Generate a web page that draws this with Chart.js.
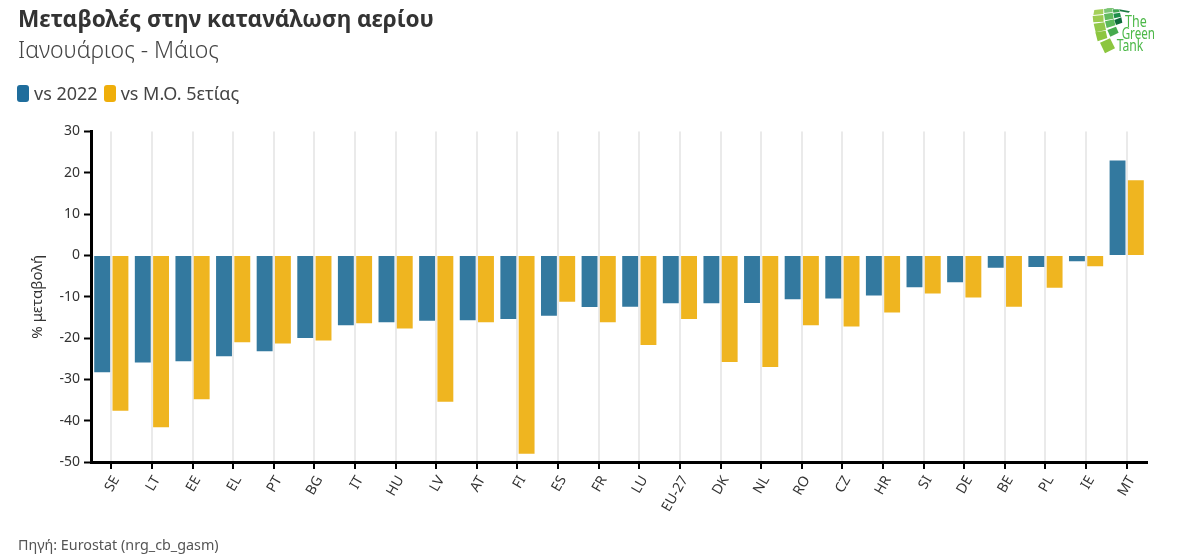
<!DOCTYPE html>
<html lang="el">
<head>
<meta charset="utf-8">
<title>Μεταβολές στην κατανάλωση αερίου</title>
<script src="https://cdn.jsdelivr.net/npm/chart.js@4"></script>
<style>
  html, body { margin: 0; padding: 0; background: #fff; }
  body { width: 1179px; height: 555px; position: relative; overflow: hidden; font-family: "Noto Sans", sans-serif; color: #333; }
  #chart-wrap { position: absolute; left: 0; top: 0; width: 1179px; height: 555px; }
  .title { position: absolute; left: 18px; top: 3px; font-size: 22.6px; font-weight: 700; white-space: nowrap; }
  .subtitle { position: absolute; left: 18px; top: 33px; font-size: 23px; font-weight: 300; color: #444; white-space: nowrap; }
  .legend { position: absolute; left: 17px; top: 81px; font-size: 18px; color: #444; display: flex; align-items: center; white-space: nowrap; }
  .legend i { display: inline-block; width: 12px; height: 17px; border-radius: 3px; margin-right: 5px; }
  .legend span { margin-right: 6px; }
  .source { position: absolute; left: 18px; top: 535px; font-size: 14.35px; color: #555; white-space: nowrap; }
  .logo { position: absolute; left: 1050px; top: 0; }
  .logo text { font-family: "Noto Sans", sans-serif; font-size: 46px; fill: #4cb848; }
</style>
</head>
<body>
<div id="chart-wrap"><canvas id="chart"></canvas></div>
<div class="title">Μεταβολές στην κατανάλωση αερίου</div>
<div class="subtitle">Ιανουάριος - Μάιος</div>
<div class="legend">
  <i style="background:#1f6d9c"></i><span>vs 2022</span>
  <i style="background:#efae0a"></i><span>vs Μ.Ο. 5ετίας</span>
</div>
<div class="source">Πηγή: Eurostat (nrg_cb_gasm)</div>
<svg class="logo" width="129" height="70" viewBox="0 0 387 210">
  <polygon points="133,30 160,27 160,42 130,45" fill="#a5d05a"/>
  <polygon points="128,48 160,45 161,65 130,67" fill="#9ccb4f"/>
  <polygon points="131,71 163,67 168,90 137,97" fill="#92c84a"/>
  <polygon points="136,97 167,92 172,114 143,124" fill="#8cc63f"/>
  <polygon points="150,128 180,115 195,145 165,160" fill="#8cc63f"/>
  <polygon points="162,27 186,24 188,36 163,39" fill="#7cc576"/>
  <polygon points="162,42 188,38 191,56 165,61" fill="#62bb5e"/>
  <polygon points="165,64 192,58 196,76 170,84" fill="#5bb95a"/>
  <polygon points="172,90 198,80 206,98 181,110" fill="#46ab4d"/>
  <polygon points="188,28 206,28 209,36 190,38" fill="#3fa651"/>
  <polygon points="190,41 210,38 213,50 193,55" fill="#1f8f4a"/>
  <polygon points="193,60 214,52 217,68 198,75" fill="#0f6b3a"/>
  <polygon points="170,24 190,24 192,27 170,26" fill="#7cc576"/>
  <polygon points="207,28 240,34 236,38 210,34" fill="#1e7a45"/>
  <text x="225" y="82" textLength="65" lengthAdjust="spacingAndGlyphs">The</text>
  <text x="215" y="117" textLength="100" lengthAdjust="spacingAndGlyphs">Green</text>
  <text x="200" y="152" textLength="80" lengthAdjust="spacingAndGlyphs">Tank</text>
</svg>
<script>
/* country codes, sorted by change vs 2022 */
const categories = ['SE','LT','EE','EL','PT','BG','IT','HU','LV','AT','FI','ES','FR','LU','EU-27','DK','NL','RO','CZ','HR','SI','DE','BE','PL','IE','MT'];
const vs2022 = [-28.3,-25.9,-25.6,-24.4,-23.2,-20.0,-16.9,-16.2,-15.8,-15.7,-15.4,-14.6,-12.5,-12.4,-11.6,-11.6,-11.5,-10.6,-10.4,-9.7,-7.7,-6.5,-3.0,-2.8,-1.4,23.0];
const vsAvg5y = [-37.6,-41.6,-34.8,-21.0,-21.3,-20.6,-16.4,-17.7,-35.4,-16.2,-48.0,-11.2,-16.2,-21.7,-15.4,-25.8,-27.0,-16.9,-17.2,-13.8,-9.2,-10.2,-12.4,-7.8,-2.6,18.2];
const yMin = -50;
const yMax = 30;
const yStep = 10;

const TICK_FONT = { family: '"Noto Sans", sans-serif', size: 14 };

new Chart(document.getElementById('chart'), {
  type: 'bar',
  data: {
    labels: categories,
    datasets: [
      { label: 'vs 2022', data: vs2022, backgroundColor: '#33799f' },
      { label: 'vs Μ.Ο. 5ετίας', data: vsAvg5y, backgroundColor: '#efb520' },
    ],
  },
  options: {
    responsive: true,
    maintainAspectRatio: false,
    animation: false,
    categoryPercentage: 0.9,
    barPercentage: 0.87,
    layout: { padding: { top: 131.5, right: 32, left: 0, bottom: 0 } },
    plugins: { legend: { display: false }, tooltip: { enabled: false } },
    scales: {
      x: {
        afterFit: s => { s.height = 93; },
        grid: { offset: false, color: '#eaeaea', lineWidth: 2, tickColor: '#000', tickWidth: 2, tickLength: 7 },
        border: { color: '#000', width: 3 },
        ticks: { color: '#333', font: TICK_FONT, minRotation: 60, maxRotation: 60, autoSkip: false, padding: 4, labelOffset: 5 },
      },
      y: {
        min: yMin,
        max: yMax,
        afterFit: s => { s.width = 91; },
        grid: { drawOnChartArea: false, tickColor: '#000', tickWidth: 2, tickLength: 7 },
        border: { color: '#000', width: 3 },
        ticks: { stepSize: yStep, color: '#333', font: TICK_FONT, padding: 4 },
        title: { display: true, text: '% μεταβολή', color: '#333', font: { family: '"Noto Sans", sans-serif', size: 15 }, padding: { top: 29, bottom: 0 } },
      },
    },
  },
});
</script>
</body>
</html>
